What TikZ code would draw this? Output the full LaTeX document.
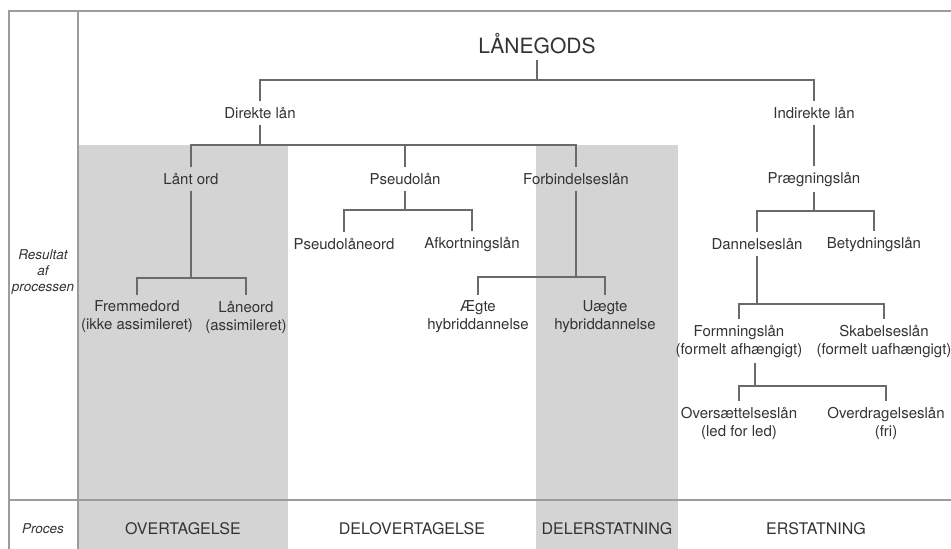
\documentclass[tikz,border=0pt]{standalone}
\usepackage{fontspec}
\setmainfont{TeX Gyre Heros}
\definecolor{bandgray}{HTML}{D4D4D4}
\definecolor{rulegray}{HTML}{9C9C9C}
\definecolor{linkgray}{HTML}{6A6A6A}
\definecolor{inkgray}{HTML}{333333}
\begin{document}
\begin{tikzpicture}[x=1pt,y=-1pt,
  term/.style={inner sep=0pt,outer sep=6pt,align=center,text=inkgray,font=\fontsize{15}{18}\selectfont},
  proc/.style={inner sep=0pt,text=inkgray,font=\fontsize{16}{19}\selectfont},
  side/.style={inner sep=0pt,align=center,text=inkgray,font=\fontsize{13.5}{16}\selectfont\itshape},
  link/.style={draw=linkgray,line width=1.1pt},
  frame/.style={draw=rulegray,line width=1.4pt}]
\useasboundingbox (0,0) rectangle (951,549);
\fill [bandgray] (78,145) rectangle (288,549);
\fill [bandgray] (536,145) rectangle (678,549);
\draw [frame] (951,11) -- (9,11) -- (9,549);
\draw [frame] (78,11) -- (78,549);
\draw [frame] (9,500) -- (951,500);

\node [term,font=\fontsize{21}{24}\selectfont] (lanegods) at (537,44) {LÅNEGODS};
\node [term] (direkte) at (260,113) {Direkte lån};
\node [term] (indirekte) at (814,113) {Indirekte lån};
\node [term] (lantord) at (191,179) {Lånt ord};
\node [term] (pseudolan) at (405,179) {Pseudolån};
\node [term] (forbind) at (576,179) {Forbindelseslån};
\node [term] (praeg) at (814,179) {Prægningslån};
\node [term] (pseudoord) at (344,244) {Pseudolåneord};
\node [term] (afkort) at (472,244) {Afkortningslån};
\node [term] (dannelse) at (757,244) {Dannelseslån};
\node [term] (betydning) at (874,244) {Betydningslån};
\node [term] (fremmed) at (137,317) {Fremmedord\\(ikke assimileret)};
\node [term] (laneord) at (246,317) {Låneord\\(assimileret)};
\node [term] (aegte) at (478,317) {Ægte\\hybriddannelse};
\node [term] (uaegte) at (605,317) {Uægte\\hybriddannelse};
\node [term] (formning) at (739,341) {Formningslån\\(formelt afhængigt)};
\node [term] (skabelse) at (884,341) {Skabelseslån\\(formelt uafhængigt)};
\node [term] (overs) at (739,423) {Oversættelseslån\\(led for led)};
\node [term] (overd) at (886,423) {Overdragelseslån\\(fri)};

\node [side] (resultat) at (43,272) {Resultat\\af\\processen};
\node [side] (proces) at (43,529) {Proces};
\node [proc] (overt) at (183,529) {OVERTAGELSE};
\node [proc] (delovert) at (412,529) {DELOVERTAGELSE};
\node [proc] (delerst) at (607,529) {DELERSTATNING};
\node [proc] (erst) at (816,529) {ERSTATNING};

\draw [link] (lanegods.south) -- (lanegods.south |- 0,80);
\draw [link] (direkte.north) |- (indirekte.north |- 0,80) -- (indirekte.north);
\draw [link] (direkte.south) -- (direkte.south |- 0,145);
\draw [link] (lantord.north) |- (forbind.north |- 0,145) -- (forbind.north);
\draw [link] (pseudolan.north) -- (pseudolan.north |- 0,145);
\draw [link] (indirekte.south) -- (praeg.north);
\draw [link] (lantord.south) -- (lantord.south |- 0,278);
\draw [link] (fremmed.north) |- (laneord.north |- 0,278) -- (laneord.north);
\draw [link] (pseudolan.south) -- (pseudolan.south |- 0,210);
\draw [link] (pseudoord.north) |- (afkort.north |- 0,210) -- (afkort.north);
\draw [link] (forbind.south) -- (forbind.south |- 0,277);
\draw [link] (aegte.north) |- (uaegte.north |- 0,277) -- (uaegte.north);
\draw [link] (praeg.south) -- (praeg.south |- 0,211);
\draw [link] (dannelse.north) |- (betydning.north |- 0,211) -- (betydning.north);
\draw [link] (dannelse.south) -- (dannelse.south |- 0,304);
\draw [link] (formning.north) |- (skabelse.north |- 0,304) -- (skabelse.north);
\draw [link] ([xshift=16pt]formning.south) -- ([xshift=16pt]formning.south |- 0,386);
\draw [link] (overs.north) |- (overd.north |- 0,386) -- (overd.north);
\end{tikzpicture}
\end{document}
